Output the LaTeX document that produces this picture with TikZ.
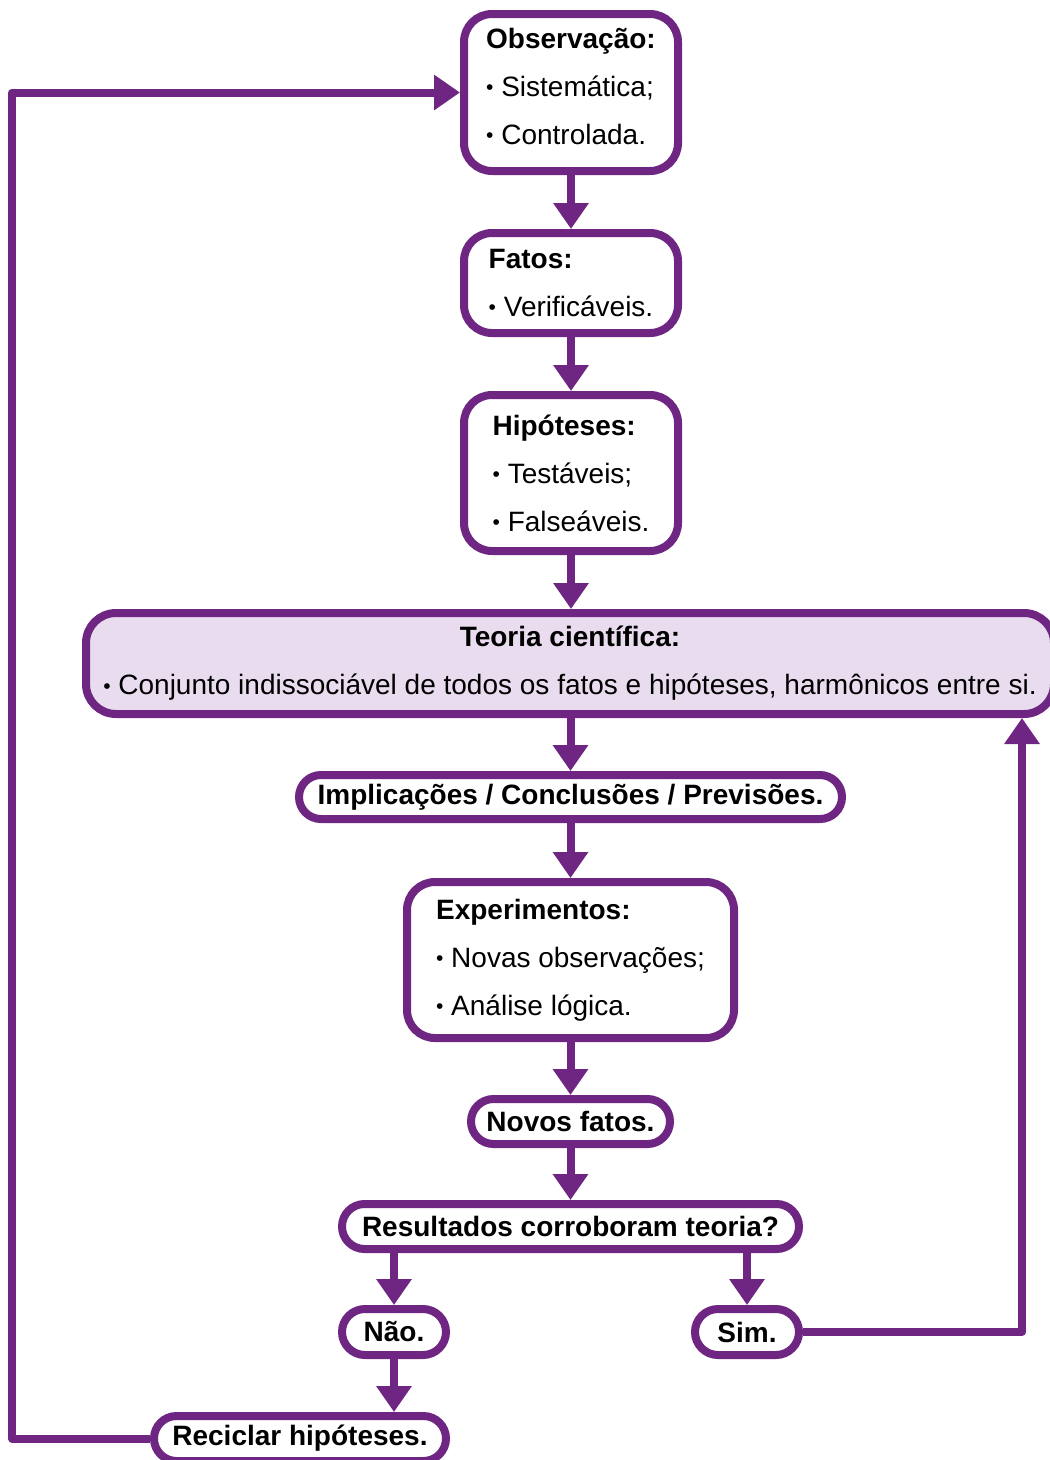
\documentclass[tikz,border=0pt]{standalone}
\usepackage{fontspec}
\setmainfont{Liberation Sans}
\usetikzlibrary{arrows.meta,shapes.misc}
\definecolor{plum}{RGB}{111,38,131}
\definecolor{lilac}{RGB}{232,220,238}
% small list dot
\newcommand{\itemdot}{\raisebox{0.06em}{\scalebox{0.75}{•}}}

\begin{document}
\begin{tikzpicture}[x=1pt,y=-1pt,
  box/.style={draw=plum, line width=8pt, rounded corners=28pt, fill=white,
    inner sep=0pt, align=left, font=\fontsize{28}{48}\selectfont},
  pill/.style={draw=plum, line width=8pt, rounded rectangle, fill=white,
    inner sep=0pt, minimum height=45pt, font=\bfseries\fontsize{28}{34}\selectfont},
  flow/.style={draw=plum, line width=8pt, line join=round,
    -{Triangle[width=34pt,length=26pt]}},
]
\useasboundingbox (0,0) rectangle (1050,1460);

% main chain of boxes
\node[box, minimum width=214pt, minimum height=157pt] (obs) at (571,92.5)
  {\textbf{Observação:}\\\itemdot\ Sistemática;\\\itemdot\ Controlada.\rule[-13pt]{0pt}{13pt}};
\node[box, minimum width=214pt, minimum height=100pt] (fatos) at (571,283)
  {\textbf{Fatos:}\\\itemdot\ Verificáveis.};
\node[box, minimum width=214pt, minimum height=156pt] (hip) at (571,473)
  {\textbf{Hipóteses:}\\\itemdot\ Testáveis;\\\itemdot\ Falseáveis.};
\node[box, fill=lilac, align=center, rounded corners=30pt,
  minimum width=968pt, minimum height=101pt] (teoria) at (570,663.5)
  {\textbf{Teoria científica:}\\\itemdot\ Conjunto indissociável de todos os fatos e hipóteses, harmônicos entre si.};
\node[pill, minimum width=543pt, minimum height=44pt] (impl) at (570.5,797)
  {Implicações / Conclusões / Previsões.};
\node[box, minimum width=327pt, minimum height=156pt] (exp) at (570.5,960)
  {\textbf{Experimentos:}\\\itemdot\ Novas observações;\\\itemdot\ Análise lógica.};
\node[pill, minimum width=199pt] (novos) at (570.5,1121.5) {Novos fatos.};
\node[pill, minimum width=457pt] (res) at (570.5,1226.5) {Resultados corroboram teoria?};
\node[pill, minimum width=104pt, minimum height=46pt] (nao) at (394,1332) {Não.};
\node[pill, minimum width=104pt, minimum height=46pt] (sim) at (747,1332) {Sim.};
\node[pill, minimum width=292pt] (recic) at (300,1438.5) {Reciclar hipóteses.};

% loop corners
\coordinate (loopL) at (12,1438.5);
\coordinate (loopR) at (1022,1332);

% connectors
\draw[flow] (obs.south) -- (fatos.north);
\draw[flow] (fatos.south) -- (hip.north);
\draw[flow] (hip.south) -- (teoria.north -| hip.south);
\draw[flow] (teoria.south -| impl.north) -- (impl.north);
\draw[flow] (impl.south) -- (exp.north);
\draw[flow] (exp.south) -- (novos.north);
\draw[flow] (novos.south) -- (res.north);
\draw[flow] (res.south -| nao.north) -- (nao.north);
\draw[flow] (res.south -| sim.north) -- (sim.north);
\draw[flow] (nao.south) -- (nao.south |- recic.north);
\draw[flow] (recic.west) -- (loopL) |- (obs.west);
\draw[flow] (sim.east) -- (loopR) -- (loopR |- teoria.south);
\end{tikzpicture}
\end{document}
